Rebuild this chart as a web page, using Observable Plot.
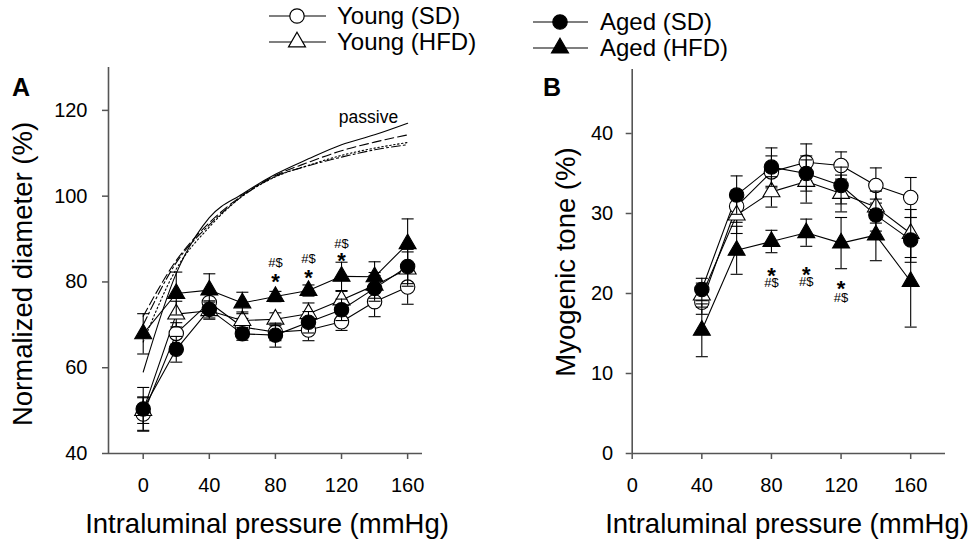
<!DOCTYPE html>
<html><head><meta charset="utf-8">
<script src="https://cdn.jsdelivr.net/npm/d3@7"></script>
<script src="https://cdn.jsdelivr.net/npm/@observablehq/plot@0.6"></script>
<style>
body{margin:0;background:#fff;font-family:"Liberation Sans",Arial,sans-serif;}
#c{position:relative;width:972px;height:543px;overflow:hidden;background:#fff;}
#c svg.pl{position:absolute;top:0;}
.t{position:absolute;white-space:nowrap;color:#000;line-height:1;}
.rot{transform:translate(-50%,-50%) rotate(-90deg);}
.ctr{transform:translate(-50%,-50%);}
</style></head><body><div id="c"></div>
<script>
// ---------- Data ----------
const seriesNames = ["Young (SD)", "Young (HFD)", "Aged (SD)", "Aged (HFD)"];

// Panel A: normalized diameter (%)
const pressureA = [0, 20, 40, 60, 80, 100, 120, 140, 160];
const youngSD_A      = [49.2, 68.0, 75.2, 69.5, 68.3, 68.8, 70.7, 75.4, 78.8];
const youngSD_A_sem  = [4.0, 2.5, 2.0, 2.0, 2.0, 2.5, 2.0, 3.5, 4.0];
const youngHFD_A     = [50.0, 72.5, 73.3, 71.0, 71.3, 72.6, 75.8, 79.2, 83.0];
const youngHFD_A_sem = [3.0, 3.0, 2.0, 2.0, 1.5, 2.5, 2.0, 3.0, 4.0];
const agedSD_A       = [50.4, 64.3, 73.6, 67.9, 67.6, 70.6, 73.5, 78.5, 83.6];
const agedSD_A_sem   = [5.0, 3.0, 2.0, 1.5, 2.8, 2.5, 2.5, 3.0, 4.0];
const agedHFD_A      = [67.9, 77.3, 78.1, 75.1, 76.6, 78.0, 81.3, 81.2, 88.9];
const agedHFD_A_sem  = [4.7, 5.0, 3.8, 2.5, 1.2, 1.3, 3.3, 3.5, 5.8];

// Passive diameter curves (panel A)
const passiveSolid   = [59.0, 82.0, 95.0, 100.5, 105.1, 108.7, 112.0, 114.3, 117.0];
const passiveDash    = [72.0, 85.0, 93.8, 100.2, 104.8, 107.9, 110.6, 112.6, 114.3];
const passiveDashDot = [70.0, 84.5, 93.3, 100.0, 104.6, 107.1, 109.1, 110.8, 112.0];
const passiveDot     = [66.0, 83.0, 92.8, 100.0, 104.5, 107.2, 109.5, 111.2, 112.5];
const passiveLabel = "passive";
const passiveLabelAt = {p: 136.3, v: 118.3};

// Panel B: myogenic tone (%)
const pressureB = [40, 60, 80, 100, 120, 140, 160];
const youngSD_B      = [18.9, 30.9, 35.2, 36.4, 36.0, 33.5, 32.0];
const youngSD_B_sem  = [1.5, 2.0, 2.0, 2.3, 1.7, 2.2, 2.5];
const youngHFD_B     = [19.8, 29.8, 32.7, 34.0, 32.5, 30.8, 27.5];
const youngHFD_B_sem = [1.5, 2.3, 1.9, 2.7, 2.3, 2.0, 3.0];
const agedSD_B       = [20.5, 32.3, 35.8, 35.0, 33.5, 29.8, 26.7];
const agedSD_B_sem   = [1.4, 2.4, 2.4, 2.2, 2.3, 2.0, 2.8];
const agedHFD_B      = [15.4, 25.4, 26.5, 27.6, 26.3, 27.3, 21.5];
const agedHFD_B_sem  = [3.3, 3.0, 1.4, 1.7, 3.2, 3.2, 5.7];

// Significance annotations
const annoP_A = [80, 100, 120];
const starY_A = [81.3, 82.1, 86.1];
const hashY_A = [84.4, 85.3, 88.9];
const annoP_B = [80, 100, 120];
const starY_B = [22.9, 23.0, 21.3];
const hashY_B = [21.3, 21.4, 19.5];

// Axis ticks
const xTicks = [0, 40, 80, 120, 160];
const yTicksA = [40, 60, 80, 100, 120];
const yTicksB = [0, 10, 20, 30, 40];

// ---------- Build ----------
const FONT = "Liberation Sans, Arial, sans-serif";
const axisColor = "#555";
const styles = {
  "Young (SD)":  {symbol: "circle",   fill: "white", r: 7.2},
  "Young (HFD)": {symbol: "triangle", fill: "white", r: 6.3},
  "Aged (SD)":   {symbol: "circle",   fill: "black", r: 7.2},
  "Aged (HFD)":  {symbol: "triangle", fill: "black", r: 6.3}
};
const capSymbol = {draw(ctx, size) { const w = Math.sqrt(size); ctx.moveTo(-w, 0); ctx.lineTo(w, 0); }};

function rows(P, V, E) { return P.map((p, i) => ({p, v: V[i], lo: V[i] - E[i], hi: V[i] + E[i]})); }

const groupsA = [
  rows(pressureA, youngSD_A, youngSD_A_sem),
  rows(pressureA, youngHFD_A, youngHFD_A_sem),
  rows(pressureA, agedSD_A, agedSD_A_sem),
  rows(pressureA, agedHFD_A, agedHFD_A_sem)
];
const groupsB = [
  rows(pressureB, youngSD_B, youngSD_B_sem),
  rows(pressureB, youngHFD_B, youngHFD_B_sem),
  rows(pressureB, agedSD_B, agedSD_B_sem),
  rows(pressureB, agedHFD_B, agedHFD_B_sem)
];

function panel(o) {
  const marks = [];
  marks.push(Plot.axisX({ticks: xTicks, tickSize: 6, tickPadding: 18, label: null, stroke: axisColor, strokeWidth: 1.5, fill: "black", fontSize: 20}));
  marks.push(Plot.axisY({ticks: o.yTicks, tickSize: 6, tickPadding: o.yPad, label: null, stroke: axisColor, strokeWidth: 1.5, fill: "black", fontSize: 20}));
  marks.push(Plot.ruleX([o.xDomain[0]], {stroke: axisColor, strokeWidth: 1.6}));
  marks.push(Plot.ruleY([o.yDomain[0]], {stroke: axisColor, strokeWidth: 1.6}));
  if (o.passive) {
    o.passive.forEach(([vals, dash]) => {
      marks.push(Plot.line(pressureA.map((p, i) => ({p, v: vals[i]})), {x: "p", y: "v", stroke: "black", strokeWidth: 1.1, strokeDasharray: dash, curve: "monotone-x"}));
    });
    marks.push(Plot.text([passiveLabelAt], {x: "p", y: "v", text: () => passiveLabel, fontSize: 17.5, fill: "black"}));
  }
  o.groups.forEach((g) => {
    marks.push(Plot.line(g, {x: "p", y: "v", stroke: "black", strokeWidth: 1.1}));
  });
  o.groups.forEach((g, k) => {
    const st = styles[seriesNames[k]];
    marks.push(Plot.ruleX(g, {x: "p", y1: "lo", y2: "hi", stroke: "black", strokeWidth: 1.1}));
    marks.push(Plot.dot(g, {x: "p", y: "lo", symbol: capSymbol, r: 3.4, stroke: "black", strokeWidth: 1.1, fill: "none"}));
    marks.push(Plot.dot(g, {x: "p", y: "hi", symbol: capSymbol, r: 3.4, stroke: "black", strokeWidth: 1.1, fill: "none"}));
    marks.push(Plot.dot(g, {x: "p", y: "v", symbol: st.symbol, r: st.r, fill: st.fill, stroke: "black", strokeWidth: 1.1}));
  });
  marks.push(Plot.text(o.annoP, {x: d => d, y: (d, i) => o.starY[i], text: () => "*", fontSize: 22, fontWeight: "bold", fill: "black", dy: 5.5}));
  marks.push(Plot.text(o.annoP, {x: d => d, y: (d, i) => o.hashY[i], text: () => "#$", fontSize: 13, fill: "black"}));
  const svg = Plot.plot({
    width: o.width, height: 543,
    marginLeft: o.ml, marginRight: o.mr, marginTop: o.mt, marginBottom: o.mb,
    x: {domain: o.xDomain},
    y: {domain: o.yDomain},
    style: {fontFamily: FONT, fontSize: "20px", color: "black", background: "transparent", overflow: "visible"},
    marks
  });
  svg.classList.add("pl");
  svg.style.left = o.left + "px";
  return svg;
}

const c = document.getElementById("c");
c.appendChild(panel({
  left: 0, width: 486, ml: 108, mr: 64, mt: 67, mb: 90,
  xDomain: [-21, 169], yDomain: [40, 130], yTicks: yTicksA, yPad: 15,
  groups: groupsA,
  passive: [[passiveSolid, null], [passiveDash, "9,4"], [passiveDashDot, "9,3,2,3"], [passiveDot, "1.5,2.5"]],
  annoP: annoP_A, starY: starY_A, hashY: hashY_A
}));
c.appendChild(panel({
  left: 486, width: 486, ml: 145.7, mr: 27, mt: 69, mb: 90,
  xDomain: [0, 180], yDomain: [0, 48], yTicks: yTicksB, yPad: 13,
  groups: groupsB,
  annoP: annoP_B, starY: starY_B, hashY: hashY_B
}));

// ---------- Text overlays ----------
function addText(txt, x, y, size, cls, extra) {
  const d = document.createElement("div");
  d.className = "t " + cls;
  d.textContent = txt;
  d.style.left = x + "px"; d.style.top = y + "px"; d.style.fontSize = size + "px";
  if (extra) Object.assign(d.style, extra);
  c.appendChild(d);
  return d;
}
addText("Normalized diameter (%)", 23, 274, 27.5, "rot");
addText("Myogenic tone (%)", 566, 262, 27.5, "rot");
addText("Intraluminal pressure (mmHg)", 267, 524, 27.5, "ctr");
addText("Intraluminal pressure (mmHg)", 787, 524, 27.5, "ctr");
addText("A", 21, 87, 25, "ctr", {fontWeight: "bold"});
addText("B", 552, 87, 25, "ctr", {fontWeight: "bold"});

// Legend
const legendPos = [
  {x1: 269, x2: 326, cx: 297, y: 16, tx: 337},
  {x1: 269, x2: 326, cx: 297, y: 42, tx: 337},
  {x1: 533, x2: 588, cx: 560, y: 22, tx: 600},
  {x1: 533, x2: 588, cx: 560, y: 48, tx: 600}
];
const ns = "http://www.w3.org/2000/svg";
const lg = document.createElementNS(ns, "svg");
lg.setAttribute("width", 972); lg.setAttribute("height", 60);
lg.style.position = "absolute"; lg.style.left = "0px"; lg.style.top = "0px";
seriesNames.forEach((name, k) => {
  const pos = legendPos[k], st = styles[name];
  const ln = document.createElementNS(ns, "line");
  ln.setAttribute("x1", pos.x1); ln.setAttribute("x2", pos.x2);
  ln.setAttribute("y1", pos.y); ln.setAttribute("y2", pos.y);
  ln.setAttribute("stroke", "black"); ln.setAttribute("stroke-width", 1.2);
  lg.appendChild(ln);
  const p = document.createElementNS(ns, "path");
  const sym = st.symbol === "circle" ? d3.symbolCircle : d3.symbolTriangle;
  p.setAttribute("d", d3.symbol(sym, st.r * st.r * Math.PI)());
  p.setAttribute("transform", `translate(${pos.cx},${pos.y})`);
  p.setAttribute("fill", st.fill); p.setAttribute("stroke", "black"); p.setAttribute("stroke-width", 1.2);
  lg.appendChild(p);
  addText(name, pos.tx, pos.y - 12, 24, "");
});
c.appendChild(lg);
</script>
</body></html>
